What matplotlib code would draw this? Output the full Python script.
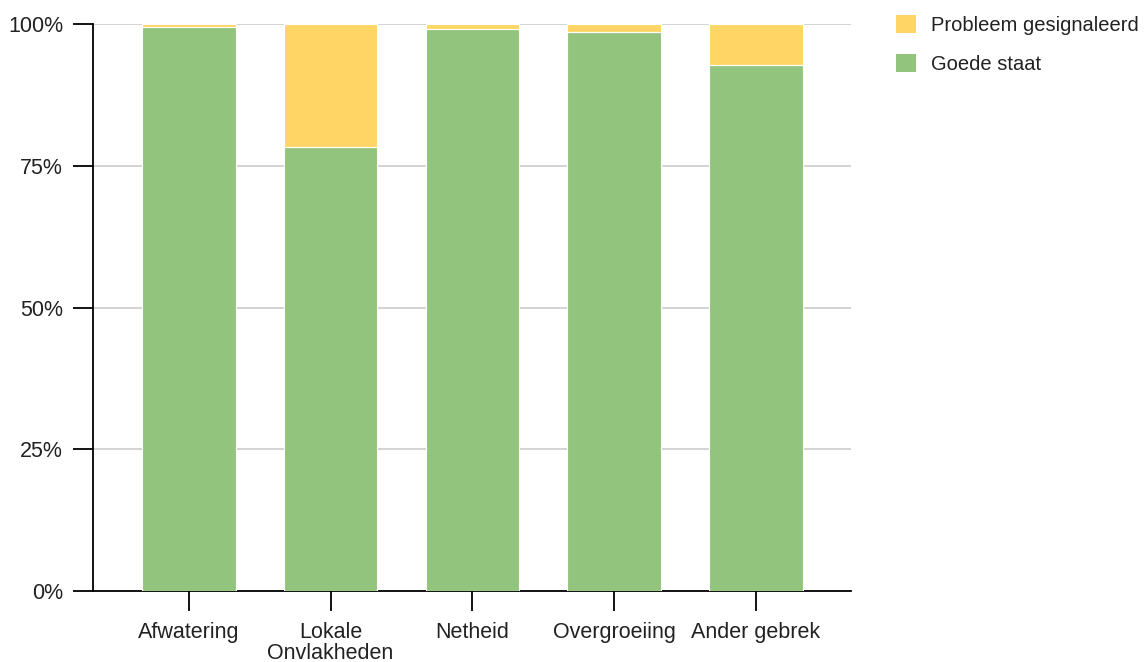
import matplotlib
import numpy as np

matplotlib.use("Agg")
import matplotlib.pyplot as plt  # noqa: E402
from matplotlib.patches import Patch  # noqa: E402

plt.rcParams["font.family"] = ["Liberation Sans", "DejaVu Sans"]

# Data (percent of inspected segments)
categories = ["Afwatering", "Lokale\nOnvlakheden", "Netheid", "Overgroeiing", "Ander gebrek"]
goede_staat = [99.5, 78.3, 99.2, 98.6, 92.8]
probleem = [100 - g for g in goede_staat]
yticks = [0, 25, 50, 75, 100]
ytick_labels = ["0%", "25%", "50%", "75%", "100%"]

green = "#93C47D"
yellow = "#FFD666"

fig = plt.figure(figsize=(11.48, 6.62), dpi=100)
ax = fig.add_axes([93 / 1148, 71 / 662, 758 / 1148, 567 / 662])

x = np.arange(len(categories))
ax.bar(x, goede_staat, width=0.66, color=green, edgecolor="white", linewidth=0.8, zorder=3)
ax.bar(x, probleem, width=0.66, bottom=goede_staat, color=yellow,
       edgecolor="white", linewidth=0.8, zorder=3)

ax.set_xlim(-0.675, len(categories) - 0.33)
ax.set_ylim(0, 100)
ax.set_yticks(yticks)
ax.set_yticklabels(ytick_labels)
ax.set_xticks(x)
ax.set_xticklabels(categories)

ax.grid(axis="y", color="#cccccc", linewidth=1.2, zorder=0)
for side in ["top", "right"]:
    ax.spines[side].set_visible(False)
ax.spines["left"].set_linewidth(1.3)
ax.spines["bottom"].set_linewidth(1.3)
ax.tick_params(axis="both", length=14.5, width=1.3, color="black",
               labelsize=15.5, labelcolor="#222222")
ax.tick_params(axis="y", pad=7)
ax.tick_params(axis="x", pad=8)
for lbl in ax.get_xticklabels():
    lbl.set_linespacing(1.0)

handles = [Patch(facecolor=yellow, label="Probleem gesignaleerd"),
           Patch(facecolor=green, label="Goede staat")]
fig.legend(handles=handles, loc="upper left", bbox_to_anchor=(0.768, 0.999),
           frameon=False, fontsize=14.5, handlelength=1.0, handleheight=1.0,
           handletextpad=0.75, labelspacing=0.95, labelcolor="#222222",
           borderaxespad=0.3)

fig.savefig("out.png", dpi=100)
plt.close(fig)
